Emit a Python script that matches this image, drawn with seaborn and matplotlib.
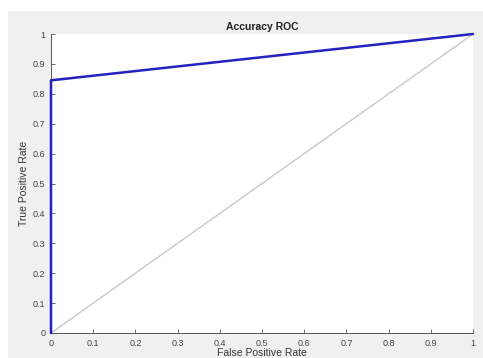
import matplotlib
matplotlib.use('Agg')
import matplotlib.pyplot as plt
import seaborn as sns
import numpy as np
from matplotlib.patches import Rectangle

# dados da curva ROC
fpr = [0.0, 0.0, 1.0]
tpr = [0.0, 0.845, 1.0]
diag = [0.0, 1.0]
ticks = [round(t, 1) for t in np.arange(0, 1.01, 0.1)]
tick_labels = ['0', '0.1', '0.2', '0.3', '0.4', '0.5', '0.6', '0.7', '0.8', '0.9', '1']

sns.set_theme(style='white')
plt.rcParams['font.family'] = ['Liberation Sans', 'DejaVu Sans']

fig = plt.figure(figsize=(4.83, 3.58), dpi=100, facecolor='white')
# fundo cinza estilo MATLAB
fig.patches.append(Rectangle((8 / 483, 0), 1, (358 - 11) / 358, transform=fig.transFigure,
                             facecolor='#f0f0f0', edgecolor='none', zorder=-10))
ax = fig.add_axes([51 / 483, 25 / 358, 422 / 483, 299 / 358])
ax.set_facecolor('white')

sns.lineplot(x=diag, y=diag, ax=ax, color='#c8c8c8', linewidth=1.0, sort=False, estimator=None)
sns.lineplot(x=fpr, y=tpr, ax=ax, color='#2222c0', linewidth=1.8, sort=False, estimator=None,
             clip_on=False, zorder=5)

ax.set_xlim(0, 1)
ax.set_ylim(0, 1)
ax.set_xticks(ticks)
ax.set_yticks(ticks)
ax.set_xticklabels(tick_labels)
ax.set_yticklabels(tick_labels)
ax.tick_params(direction='in', length=3, width=0.6, colors='#555555', labelsize=6.5,
               labelcolor='#444444', bottom=True, left=True, pad=4)
for s in ['top', 'right']:
    ax.spines[s].set_visible(False)
for s in ['left', 'bottom']:
    ax.spines[s].set_color('#555555')
    ax.spines[s].set_linewidth(0.7)

ax.set_title('Accuracy ROC', fontsize=7.5, fontweight='bold', color='#222222', pad=3)
ax.set_xlabel('False Positive Rate', fontsize=7.5, color='#333333', labelpad=0)
ax.set_ylabel('True Positive Rate', fontsize=7.5, color='#333333', labelpad=3)

fig.savefig('out.png', dpi=100, facecolor=fig.get_facecolor())
